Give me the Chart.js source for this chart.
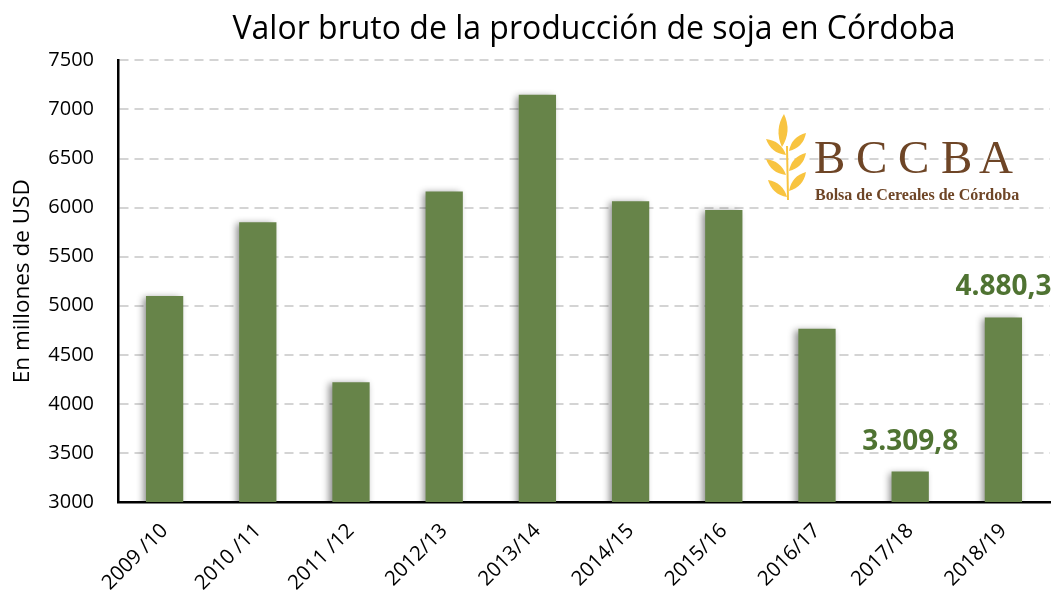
<!DOCTYPE html>
<html>
<head>
<meta charset="utf-8">
<script src="https://cdn.jsdelivr.net/npm/chart.js@4/dist/chart.umd.min.js"></script>
<style>
  html, body { margin: 0; padding: 0; background: #ffffff; }
  #wrap { width: 1051px; height: 596px; position: relative; }
</style>
</head>
<body>
<div id="wrap"><canvas id="c" width="1051" height="596"></canvas></div>
<script>
// ---- Data ----
const categories = ["2009 /10", "2010 /11", "2011 /12", "2012/13", "2013/14", "2014/15", "2015/16", "2016/17", "2017/18", "2018/19"];
const values = [5100, 5850, 4220, 6165, 7150, 6065, 5975, 4765, 3309.8, 4880.3];
const labeledIndices = [8, 9];
const chartTitle = "Valor bruto de la producción de soja en Córdoba";
const yAxisTitle = "En millones de USD";
const logoName = "Bolsa de Cereales de Córdoba";
const logoLetters = ["B", "C", "C", "B", "A"];

const BAR = "#678449";
const LABEL_GREEN = "#4F7332";
const FONT = "'Open Sans', 'Noto Sans', sans-serif";

function fmtEs(v) {
  const fixed = v.toFixed(1);
  const parts = fixed.split(".");
  const withDots = parts[0].replace(/\B(?=(\d{3})+(?!\d))/g, ".");
  return withDots + "," + parts[1];
}

const shadowPlugin = {
  id: "barShadow",
  beforeDatasetsDraw(chart) {
    const ctx = chart.ctx;
    ctx.save();
    ctx.shadowColor = "rgba(0,0,0,0.45)";
    ctx.shadowBlur = 7;
    ctx.shadowOffsetX = -3;
    ctx.shadowOffsetY = 1;
  },
  afterDatasetsDraw(chart) {
    chart.ctx.restore();
  }
};

const labelPlugin = {
  id: "valueLabels",
  afterDatasetsDraw(chart) {
    const ctx = chart.ctx;
    const meta = chart.getDatasetMeta(0);
    ctx.save();
    ctx.fillStyle = LABEL_GREEN;
    ctx.font = "bold 28px " + FONT;
    ctx.textAlign = "center";
    ctx.textBaseline = "middle";
    labeledIndices.forEach(i => {
      const el = meta.data[i];
      ctx.fillText(fmtEs(values[i]), el.x, el.y - 30);
    });
    ctx.restore();
  }
};

const titleShiftPlugin = {
  id: "titleShift",
  afterLayout(chart) {
    if (chart.titleBlock) {
      chart.titleBlock.left = 138;
    }
  }
};

function leaf(ctx, bx, by, tx, ty, w) {
  const mx = (bx + tx) / 2, my = (by + ty) / 2;
  const dx = tx - bx, dy = ty - by;
  const len = Math.hypot(dx, dy);
  const nx = -dy / len * w, ny = dx / len * w;
  ctx.beginPath();
  ctx.moveTo(bx, by);
  ctx.quadraticCurveTo(mx + nx, my + ny, tx, ty);
  ctx.quadraticCurveTo(mx - nx, my - ny, bx, by);
  ctx.closePath();
  ctx.fill();
}

const logoPlugin = {
  id: "logo",
  afterDraw(chart) {
    const ctx = chart.ctx;
    ctx.save();
    ctx.fillStyle = "#F8C440";
    ctx.strokeStyle = "#F8C440";
    ctx.lineWidth = 2;
    ctx.beginPath();
    ctx.moveTo(787, 146);
    ctx.lineTo(788, 200);
    ctx.stroke();
    leaf(ctx, 782, 147, 784, 114, 9);
    leaf(ctx, 786, 155, 766, 139, 8);
    leaf(ctx, 786, 175, 766, 159, 8);
    leaf(ctx, 787, 197, 768, 180, 8);
    leaf(ctx, 789, 151, 806, 133, 8);
    leaf(ctx, 789, 171, 806, 153, 8);
    leaf(ctx, 789, 191, 806, 172, 8);
    // text
    ctx.fillStyle = "#6E4526";
    ctx.textBaseline = "alphabetic";
    ctx.textAlign = "left";
    ctx.font = "47px 'Liberation Serif', 'DejaVu Serif', serif";
    const xs = [814, 856, 898, 941, 979];
    logoLetters.forEach((l, i) => ctx.fillText(l, xs[i], 173));
    ctx.font = "bold 16px 'Liberation Serif', 'DejaVu Serif', serif";
    ctx.fillText(logoName, 815, 200);
    ctx.restore();
  }
};

new Chart(document.getElementById("c"), {
  type: "bar",
  data: {
    labels: categories,
    datasets: [{
      data: values,
      backgroundColor: BAR,
      borderWidth: 0,
      barPercentage: 0.4,
      categoryPercentage: 1.0
    }]
  },
  options: {
    responsive: false,
    animation: false,
    devicePixelRatio: 1,
    layout: { padding: { left: 0, right: 1, top: 0, bottom: 0 } },
    plugins: {
      legend: { display: false },
      tooltip: { enabled: false },
      title: {
        display: true,
        text: chartTitle,
        color: "#000000",
        font: { family: FONT, size: 32, weight: "normal" },
        padding: { top: 11, bottom: 11 }
      }
    },
    scales: {
      x: {
        offset: true,
        grid: { display: false, drawTicks: false },
        border: { display: true, color: "#000000", width: 2.5 },
        ticks: {
          color: "#000000",
          font: { family: FONT, size: 20.5 },
          minRotation: 45,
          maxRotation: 45,
          padding: 17
        },
        afterFit(scale) { scale.height = 94; }
      },
      y: {
        min: 3000,
        max: 7500,
        grid: {
          color: "#D4D4D4",
          lineWidth: 2,
          drawTicks: false
        },
        border: { display: true, color: "#000000", width: 2.5, dash: [9, 6] },
        ticks: {
          stepSize: 500,
          color: "#000000",
          font: { family: FONT, size: 20 },
          padding: 24,
          callback: (v) => String(v)
        },
        title: {
          display: true,
          text: yAxisTitle,
          color: "#000000",
          font: { family: FONT, size: 22.5 },
          padding: { top: 9, bottom: 0 }
        },
        afterFit(scale) { scale.width = 118; }
      }
    }
  },
  plugins: [shadowPlugin, labelPlugin, logoPlugin, titleShiftPlugin]
});
</script>
</body>
</html>
